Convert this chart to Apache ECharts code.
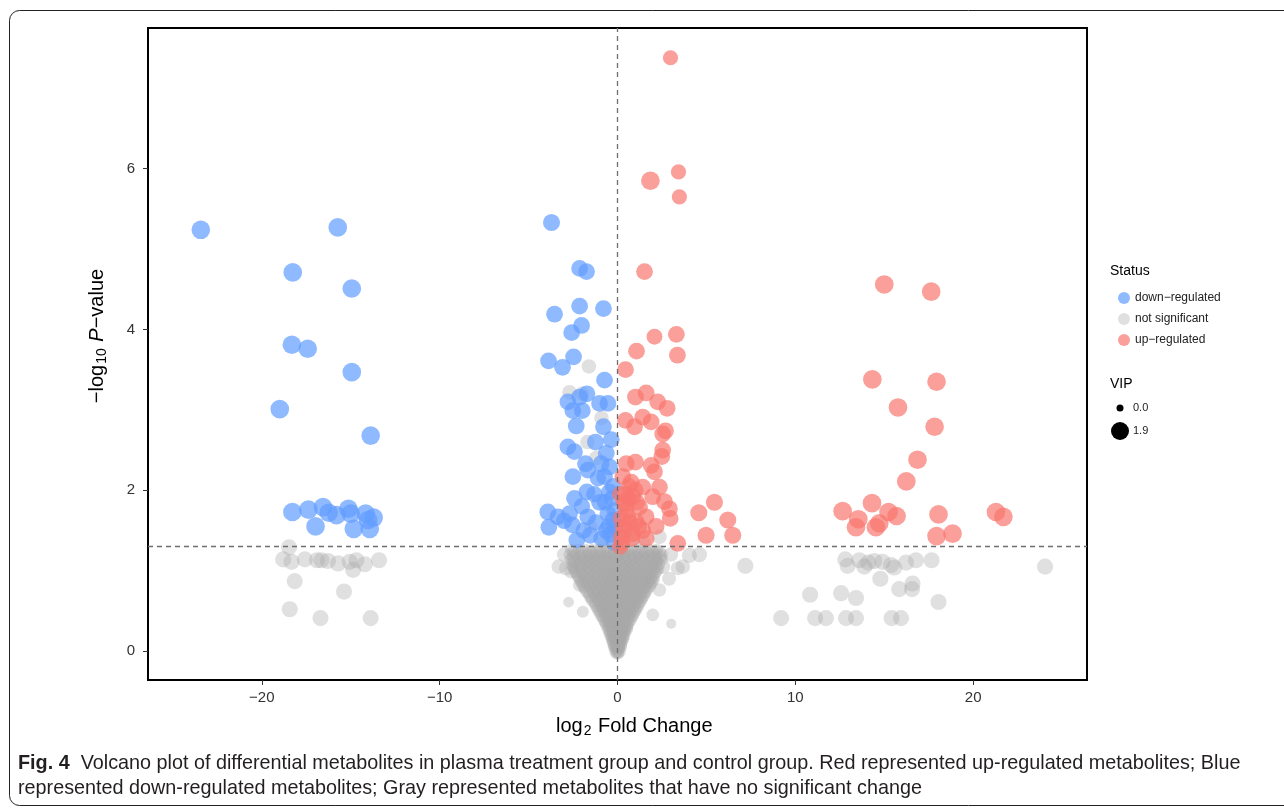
<!DOCTYPE html>
<html><head><meta charset="utf-8">
<script src="https://cdn.jsdelivr.net/npm/echarts@6/dist/echarts.min.js"></script>
<style>html,body{margin:0;padding:0;background:#fff}#c{width:1284px;height:812px}</style>
</head><body><div id="c"></div>
<script>
// ---- Data (log2 fold change, -log10 p-value, VIP) ----
const xTicks = [-20, -10, 0, 10, 20];
const yTicks = [0, 2, 4, 6];
const pThreshold = 1.30103;
const statusNames = ['down\u2212regulated', 'not significant', 'up\u2212regulated'];
const vipLegend = [0.0, 1.9];

const downFar = [
  [-23.43,5.24,1.85],[-15.73,5.27,1.85],[-18.26,4.71,1.85],[-14.94,4.51,1.85],[-18.31,3.81,1.85],
  [-17.42,3.76,1.85],[-14.94,3.47,1.85],[-18.99,3.01,1.85],[-13.88,2.68,1.85],
  [-18.28,1.73,1.85],[-17.38,1.76,1.85],[-16.56,1.79,1.85],[-16.24,1.72,1.85],[-15.80,1.69,1.85],
  [-15.13,1.77,1.85],[-15.00,1.71,1.85],[-14.16,1.71,1.85],[-13.71,1.66,1.85],[-16.98,1.55,1.85],
  [-14.83,1.52,1.85],[-13.93,1.52,1.85],[-14.03,1.63,1.85]
];
const downNear = [
  [-3.71,5.33,1.6],[-2.13,4.76,1.55],[-1.74,4.72,1.55],[-2.13,4.29,1.55],[-0.79,4.26,1.55],
  [-3.54,4.19,1.55],[-2.02,4.05,1.55],[-2.58,3.96,1.55],[-3.88,3.61,1.55],[-3.09,3.53,1.55],
  [-2.47,3.66,1.55],[-0.73,3.37,1.55],
  [-2.79,3.10,1.55],[-2.13,3.16,1.55],[-1.72,3.20,1.55],[-2.51,2.99,1.55],[-1.98,2.99,1.55],
  [-1.01,3.08,1.55],[-0.54,3.08,1.55],[-2.32,2.80,1.55],[-0.79,2.79,1.55],[-0.35,2.63,1.55],
  [-1.24,2.60,1.55],[-2.79,2.54,1.55],[-2.42,2.48,1.55],[-0.63,2.46,1.55],[-1.80,2.33,1.55],
  [-0.92,2.33,1.55],[-0.45,2.29,1.55],[-2.51,2.17,1.55],[-1.67,2.25,1.55],[-2.42,1.90,1.55],
  [-1.72,1.98,1.55],[-0.73,2.17,1.55],[-0.45,1.98,1.55],[-1.01,1.85,1.55],[-3.92,1.73,1.55],
  [-3.35,1.67,1.55],[-3.86,1.54,1.55],[-2.70,1.71,1.55],[-2.54,1.57,1.55],[-1.67,1.67,1.55],
  [-0.54,1.71,1.55],[-0.26,1.63,1.55],[-1.53,1.44,1.55],[-2.29,1.38,1.55],[-0.63,1.50,1.55],
  [-0.20,1.35,1.5],[-0.40,1.45,1.5],[-0.15,1.75,1.5],[-0.70,1.85,1.5],[-0.30,1.90,1.5],
  [-1.20,1.60,1.5],[-0.90,1.40,1.5],[-0.50,1.55,1.5],[-0.10,1.55,1.5],[-1.30,1.95,1.5],
  [-2.00,1.80,1.5],[-1.90,1.50,1.5],[-3.00,1.62,1.5],[-0.25,2.05,1.5],[-1.10,2.15,1.5]
];
const upFar = [
  [15.00,4.56,1.85],[17.64,4.47,1.85],[14.33,3.38,1.85],[17.94,3.35,1.85],[15.77,3.03,1.85],
  [17.83,2.79,1.85],[16.87,2.38,1.85],[16.24,2.11,1.85],[12.66,1.74,1.85],[14.31,1.84,1.85],
  [13.54,1.64,1.85],[13.41,1.54,1.85],[14.53,1.54,1.85],[14.72,1.59,1.85],[15.24,1.73,1.85],
  [15.69,1.68,1.85],[18.05,1.70,1.85],[17.94,1.43,1.85],[18.84,1.46,1.85],[21.28,1.73,1.85],
  [21.70,1.67,1.85]
];
const upNear = [
  [2.98,7.38,1.3],[1.85,5.85,1.85],[3.43,5.96,1.3],[3.48,5.65,1.3],[1.52,4.72,1.55],
  [2.08,3.91,1.4],[3.31,3.94,1.55],[1.07,3.73,1.55],[3.37,3.68,1.55],[0.45,3.50,1.55],
  [1.01,3.16,1.55],[1.61,3.21,1.55],[2.26,3.10,1.55],[2.79,3.02,1.55],[0.45,2.87,1.55],
  [0.96,2.79,1.55],[1.42,2.91,1.55],[1.89,2.85,1.55],[2.54,2.70,1.55],[2.70,2.74,1.55],
  [2.54,2.50,1.55],[2.49,2.42,1.55],[0.49,2.33,1.55],[1.01,2.35,1.55],[1.89,2.31,1.55],
  [2.08,2.23,1.55],[2.36,2.04,1.55],[0.30,2.17,1.55],[0.77,2.10,1.55],[1.42,2.04,1.55],
  [0.86,1.92,1.55],[0.49,1.83,1.55],[1.24,1.79,1.55],[1.98,1.92,1.55],[2.64,1.86,1.55],
  [2.92,1.77,1.55],[2.96,1.65,1.55],[0.58,1.67,1.55],[1.05,1.61,1.55],[1.61,1.67,1.55],
  [2.17,1.55,1.55],[0.39,1.50,1.55],[0.86,1.46,1.55],[1.42,1.50,1.55],[0.21,1.42,1.55],
  [1.61,1.40,1.55],[3.39,1.34,1.55],[4.57,1.72,1.6],[5.45,1.85,1.6],[6.20,1.63,1.6],
  [4.98,1.44,1.6],[6.48,1.44,1.6],
  [0.15,1.30,1.5],[0.25,1.35,1.5],[0.30,1.55,1.5],[0.60,1.90,1.5],[0.50,1.75,1.5],
  [0.70,1.60,1.5],[0.35,1.85,1.5],[0.20,1.65,1.5],[1.00,2.00,1.5],[0.80,1.40,1.5],
  [1.20,1.55,1.5],[0.45,1.95,1.5],[1.10,1.85,1.5],[0.15,1.95,1.5],[0.65,2.05,1.5]
];
const notSigOuter = [
  [-18.47,1.29,1.45],[-18.80,1.14,1.45],[-18.33,1.11,1.45],[-17.58,1.14,1.45],[-16.65,1.13,1.45],
  [-16.28,1.12,1.45],[-15.71,1.09,1.45],[-15.06,1.11,1.45],[-14.68,1.13,1.45],[-14.21,1.08,1.45],
  [-14.87,1.01,1.45],[-13.41,1.13,1.45],[-18.15,0.87,1.45],[-15.38,0.74,1.45],[-18.43,0.52,1.45],
  [-16.70,0.41,1.45],[-13.88,0.41,1.45],[-16.90,1.13,1.45],
  [12.81,1.14,1.45],[12.94,1.06,1.45],[13.60,1.13,1.45],[13.88,1.05,1.45],[14.44,1.12,1.45],
  [14.90,1.11,1.45],[15.38,1.07,1.45],[15.56,1.04,1.45],[16.22,1.10,1.45],[16.78,1.13,1.45],
  [17.66,1.13,1.45],[14.78,0.90,1.45],[15.84,0.77,1.45],[16.59,0.84,1.45],[16.56,0.77,1.45],
  [18.05,0.61,1.45],[10.83,0.70,1.45],[12.57,0.72,1.45],[13.41,0.66,1.45],[9.20,0.41,1.45],
  [11.11,0.41,1.45],[11.72,0.41,1.45],[12.85,0.41,1.45],[13.41,0.41,1.45],[15.41,0.41,1.45],
  [15.94,0.41,1.45],[24.04,1.05,1.45],[7.19,1.06,1.45],[14.10,1.10,1.45]
];
const notSigNear = [
  [-1.61,3.54,1.2],[-2.70,3.22,1.2],[-1.69,2.60,1.2],[-2.75,0.61,0.6],[-1.95,0.49,0.8],
  [3.02,0.34,0.5],[-2.88,1.03,1.2],[-2.60,0.99,1.1],[3.39,1.03,1.1],[3.67,1.05,1.2],
  [4.04,1.19,1.3],[4.61,1.20,1.3],[2.55,1.05,1.2],[2.36,0.76,1.0],[1.98,0.45,0.9],
  [-2.13,0.82,1.0],[2.36,1.42,1.2],[-0.80,1.35,1.0],[0.90,1.38,1.0],[-0.20,1.50,1.0],
  [0.10,1.45,1.0],[-1.50,1.55,1.0],[-2.00,3.20,1.2],[-1.20,2.40,1.2],[-0.90,2.90,1.2],
  [1.50,1.35,1.0],[-3.30,1.05,1.2],[-3.00,1.20,1.2],[3.00,1.20,1.2],[2.90,0.90,1.1]
];
// dense core of the volcano: [-log10 p, VIP, [log2FC values]]
const notSigCoreRows = [
  [-0.03,0.8,[-0.05,0.05]],
  [0.00,1.0,[-0.1,0.0,0.1]],
  [0.03,0.8,[-0.12,0.0,0.1]],
  [0.055,1.0,[-0.18,-0.06,0.06,0.16]],
  [0.08,0.8,[-0.2,-0.05,0.08,0.2]],
  [0.105,1.0,[-0.24,-0.1,0.04,0.18]],
  [0.13,0.8,[-0.28,-0.12,0.02,0.15,0.27]],
  [0.155,1.0,[-0.3,-0.15,0.0,0.14,0.3]],
  [0.18,0.8,[-0.35,-0.2,-0.05,0.1,0.22,0.34]],
  [0.21,1.0,[-0.4,-0.25,-0.1,0.05,0.2,0.36]],
  [0.24,0.8,[-0.45,-0.3,-0.15,0.0,0.15,0.3,0.42]],
  [0.27,1.0,[-0.5,-0.32,-0.12,0.05,0.22,0.38,0.5]],
  [0.30,0.8,[-0.55,-0.38,-0.2,-0.05,0.12,0.28,0.45,0.55]],
  [0.33,1.0,[-0.62,-0.45,-0.25,-0.05,0.15,0.35,0.55]],
  [0.36,0.8,[-0.7,-0.5,-0.3,-0.1,0.08,0.25,0.45,0.65]],
  [0.39,1.0,[-0.75,-0.52,-0.3,-0.08,0.12,0.32,0.52,0.72]],
  [0.42,0.8,[-0.85,-0.6,-0.4,-0.18,0.02,0.22,0.42,0.62,0.8]],
  [0.45,1.0,[-0.9,-0.65,-0.38,-0.12,0.12,0.38,0.6,0.85]],
  [0.48,0.8,[-1.0,-0.75,-0.5,-0.25,0.0,0.25,0.5,0.72,0.95]],
  [0.51,1.0,[-1.05,-0.78,-0.48,-0.22,0.03,0.28,0.52,0.78,1.0]],
  [0.54,0.8,[-1.15,-0.9,-0.6,-0.35,-0.1,0.15,0.4,0.65,0.9,1.1]],
  [0.57,1.0,[-1.2,-0.85,-0.55,-0.3,-0.05,0.2,0.45,0.68,0.92,1.15]],
  [0.60,0.8,[-1.3,-1.0,-0.7,-0.45,-0.2,0.05,0.3,0.55,0.8,1.05,1.25]],
  [0.63,1.0,[-1.4,-1.05,-0.75,-0.45,-0.15,0.15,0.45,0.75,1.05,1.3]],
  [0.66,0.8,[-1.5,-1.2,-0.9,-0.6,-0.3,0.0,0.3,0.6,0.9,1.2,1.4]],
  [0.69,1.0,[-1.55,-1.2,-0.9,-0.6,-0.3,0.0,0.3,0.6,0.9,1.2,1.45]],
  [0.72,0.8,[-1.65,-1.35,-1.05,-0.75,-0.45,-0.15,0.15,0.45,0.75,1.05,1.35,1.55]],
  [0.75,1.0,[-1.75,-1.35,-1.05,-0.75,-0.45,-0.15,0.15,0.45,0.75,1.05,1.35,1.6]],
  [0.78,0.8,[-1.85,-1.5,-1.2,-0.9,-0.6,-0.3,0.0,0.3,0.6,0.9,1.2,1.5,1.7]],
  [0.81,1.0,[-1.9,-1.55,-1.2,-0.85,-0.55,-0.25,0.05,0.35,0.65,0.95,1.25,1.55,1.8]],
  [0.84,0.8,[-2.0,-1.7,-1.35,-1.0,-0.7,-0.4,-0.1,0.2,0.5,0.8,1.1,1.4,1.7,1.9]],
  [0.87,1.0,[-2.05,-1.65,-1.3,-0.95,-0.65,-0.35,-0.05,0.25,0.55,0.85,1.15,1.45,1.75,1.95]],
  [0.90,0.8,[-2.15,-1.8,-1.5,-1.15,-0.8,-0.5,-0.2,0.1,0.4,0.7,1.0,1.3,1.6,1.9,2.05]],
  [0.93,1.0,[-2.2,-1.85,-1.45,-1.1,-0.75,-0.45,-0.15,0.15,0.45,0.75,1.05,1.35,1.65,1.95]],
  [0.96,0.8,[-2.3,-1.95,-1.6,-1.25,-0.9,-0.6,-0.3,0.0,0.3,0.6,0.9,1.2,1.5,1.8,2.1]],
  [0.99,1.0,[-2.35,-2.0,-1.6,-1.2,-0.85,-0.5,-0.15,0.15,0.5,0.85,1.2,1.55,1.9,2.15]],
  [1.02,0.8,[-2.45,-2.1,-1.75,-1.4,-1.05,-0.7,-0.35,0.0,0.35,0.7,1.05,1.4,1.75,2.05,2.3]],
  [1.05,1.0,[-2.5,-2.05,-1.65,-1.25,-0.9,-0.55,-0.2,0.15,0.5,0.85,1.2,1.55,1.9,2.2]],
  [1.08,0.8,[-2.6,-2.2,-1.85,-1.5,-1.15,-0.8,-0.45,-0.1,0.25,0.6,0.95,1.3,1.65,2.0,2.35]],
  [1.11,1.0,[-2.45,-2.05,-1.7,-1.35,-1.0,-0.65,-0.3,0.05,0.4,0.75,1.1,1.45,1.8,2.15]],
  [1.14,0.8,[-2.65,-2.3,-1.95,-1.6,-1.25,-0.9,-0.55,-0.2,0.15,0.5,0.85,1.2,1.55,1.9,2.25,2.5]],
  [1.17,1.0,[-2.5,-2.1,-1.75,-1.4,-1.05,-0.7,-0.35,0.0,0.35,0.7,1.05,1.4,1.75,2.1,2.4]],
  [1.20,0.8,[-2.7,-2.35,-2.0,-1.65,-1.3,-0.95,-0.6,-0.25,0.1,0.45,0.8,1.15,1.5,1.85,2.2,2.5]],
  [1.23,1.0,[-2.45,-2.0,-1.55,-1.15,-0.75,-0.4,0.0,0.4,0.8,1.2,1.6,2.0,2.35]],
  [1.26,0.8,[-2.6,-2.2,-1.8,-1.4,-1.0,-0.6,-0.2,0.2,0.6,1.0,1.4,1.8,2.2]]
];

// ---- Build ----
const notSigCore = [];
notSigCoreRows.forEach(r => r[2].forEach(x => notSigCore.push([x, r[0], r[1]])));
const notSig = notSigCore.concat(notSigNear, notSigOuter);
const down = downFar.concat(downNear);
const up = upFar.concat(upNear);

const FONT = 'Liberation Sans, Arial, sans-serif';
const minus = v => (v < 0 ? '\u2212' + Math.abs(v) : String(v));
const sizeOf = v => 7 + 6.3 * v[2];

const chart = echarts.init(document.getElementById('c'), null, { renderer: 'canvas' });
chart.setOption({
  animation: false,
  backgroundColor: '#fff',
  grid: { left: 148, right: 197, top: 28, bottom: 132, show: true, borderColor: '#000', borderWidth: 2, backgroundColor: 'transparent' },
  xAxis: {
    type: 'value', min: -26.4, max: 26.4, position: 'bottom',
    splitLine: { show: false }, axisLine: { show: false, onZero: false },
    axisTick: { show: true, inside: false, length: 5, lineStyle: { color: '#333', width: 1 }, customValues: xTicks },
    axisLabel: { customValues: xTicks, formatter: minus, fontSize: 15, color: '#333', fontFamily: FONT, margin: 10 }
  },
  yAxis: {
    type: 'value', min: -0.36, max: 7.75, position: 'left',
    splitLine: { show: false }, axisLine: { show: false, onZero: false },
    axisTick: { show: true, inside: false, length: 5, lineStyle: { color: '#333', width: 1 }, customValues: yTicks },
    axisLabel: { customValues: yTicks, formatter: minus, fontSize: 15, color: '#333', fontFamily: FONT, margin: 13 }
  },
  legend: {
    data: statusNames, orient: 'vertical', left: 1113, top: 287,
    icon: 'circle', itemWidth: 12, itemHeight: 12, itemGap: 9,
    textStyle: { fontSize: 12, color: '#222', fontFamily: FONT }, selectedMode: false
  },
  series: [
    {
      name: statusNames[1], type: 'scatter', data: notSig, symbolSize: sizeOf,
      itemStyle: { color: '#a9a9a9', opacity: 0.36 }, silent: true, z: 2,
      markLine: {
        silent: true, symbol: 'none', animation: false, label: { show: false },
        lineStyle: { color: '#6e6e6e', type: [5, 4], width: 1.3 },
        data: [{ xAxis: 0 }, { yAxis: pThreshold }]
      }
    },
    { name: statusNames[0], type: 'scatter', data: down, symbolSize: sizeOf, itemStyle: { color: '#619CFF', opacity: 0.7 }, silent: true, z: 3 },
    { name: statusNames[2], type: 'scatter', data: up, symbolSize: sizeOf, itemStyle: { color: '#F8766D', opacity: 0.7 }, silent: true, z: 4 }
  ],
  graphic: [
    { type: 'rect', shape: { x: 9.5, y: 10.5, width: 1300, height: 795, r: 10 }, style: { fill: 'none', stroke: '#222', lineWidth: 1 }, silent: true },
    { type: 'text', left: 556, top: 716, style: { text: 'log{s|2} Fold Change', font: '20px ' + FONT, fill: '#000',
        rich: { s: { fontSize: 14, fontFamily: FONT, fill: '#000', padding: [10, 1, 0, 1] } } } },
    { type: 'text', x: 97, y: 336, rotation: Math.PI / 2,
      style: { text: '\u2212log{s|10} {i|P}\u2212value', font: '20px ' + FONT, fill: '#000', align: 'center', verticalAlign: 'middle',
        rich: { s: { fontSize: 14, fontFamily: FONT, fill: '#000', padding: [10, 1, 0, 1] }, i: { fontSize: 20, fontStyle: 'italic', fontFamily: FONT, fill: '#000' } } } },
    { type: 'text', x: 1110, y: 264, style: { text: 'Status', font: '14px ' + FONT, fill: '#000' } },
    { type: 'text', x: 1110, y: 377, style: { text: 'VIP', font: '14px ' + FONT, fill: '#000' } },
    { type: 'circle', shape: { cx: 1120, cy: 408, r: 3.5 }, style: { fill: '#000' } },
    { type: 'circle', shape: { cx: 1120, cy: 431, r: 9 }, style: { fill: '#000' } },
    { type: 'text', x: 1133, y: 402, style: { text: vipLegend[0].toFixed(1), font: '11px ' + FONT, fill: '#222' } },
    { type: 'text', x: 1133, y: 425, style: { text: vipLegend[1].toFixed(1), font: '11px ' + FONT, fill: '#222' } },
    { type: 'text', x: 18, y: 754, style: { text: '{b|Fig. 4}  Volcano plot of differential metabolites in plasma treatment group and control group. Red represented up-regulated metabolites; Blue',
        font: '19.8px ' + FONT, fill: '#231f20', rich: { b: { fontWeight: 'bold', fontSize: 19.8, fontFamily: FONT, fill: '#231f20' } } } },
    { type: 'text', x: 18, y: 779, style: { text: 'represented down-regulated metabolites; Gray represented metabolites that have no significant change',
        font: '19.8px ' + FONT, fill: '#231f20' } }
  ]
});
</script>
</body></html>
